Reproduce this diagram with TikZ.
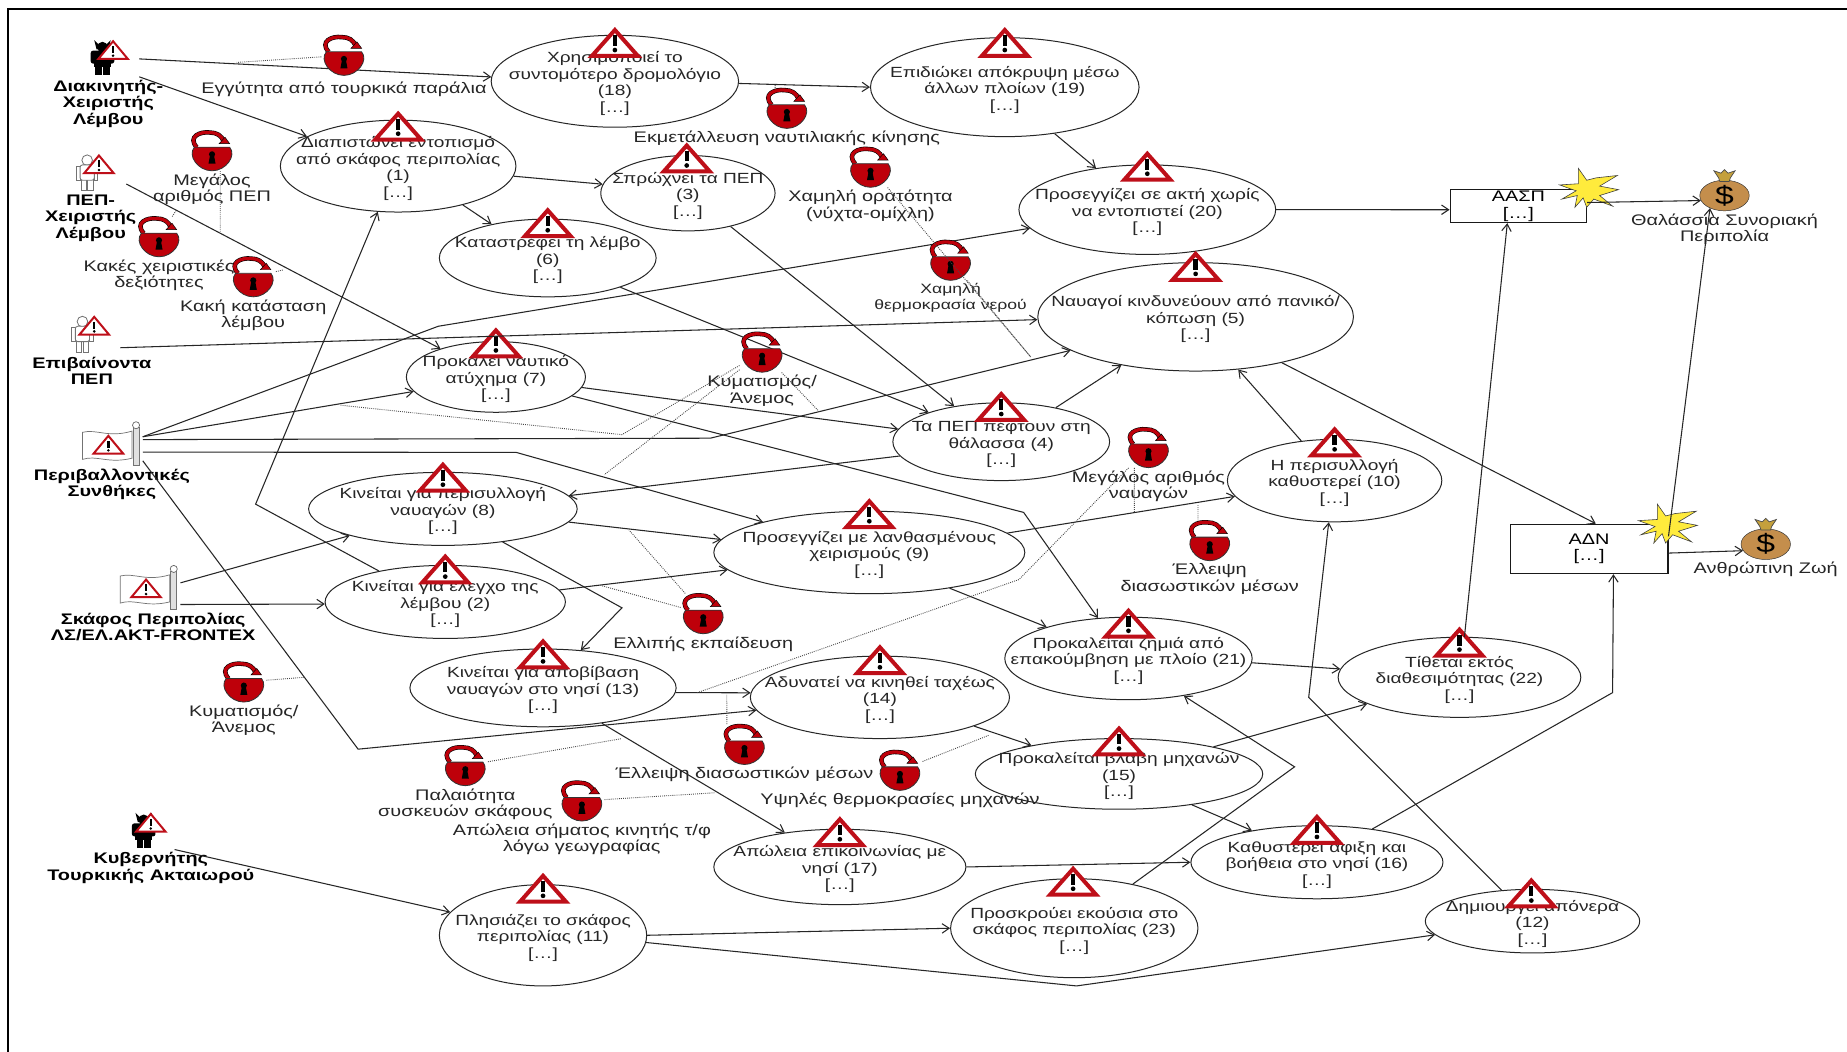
\documentclass[tikz,border=0pt]{standalone}
\usepackage{fontspec}
\setmainfont[FakeStretch=1.3]{Liberation Sans}
\usetikzlibrary{arrows.meta,shapes.geometric}
\newcommand{\goalfont}{\fontsize{12.5}{14}\selectfont}
\newcommand{\lblfont}{\fontsize{13}{14}\selectfont}
\newcommand{\lblsmall}{\fontsize{11.5}{14}\selectfont}
\newcommand{\actfont}{\fontsize{13}{14}\selectfont\bfseries}
\newcommand{\elided}{{[…]}}
\tikzset{%
  goal/.style 2 args={draw=black!85,shape=ellipse,fill=white,line width=.85pt,inner sep=0,minimum width=#1pt,minimum height=#2pt},
  goaltext/.style={font=\goalfont,text=black!85,align=center,inner sep=0,yshift=-2pt},
  locktext/.style={font=\lblfont,text=black!85,align=center,inner sep=0,yshift=-2pt},
  vuln/.style={shape=rectangle,inner sep=0,minimum width=38pt,minimum height=34pt},
  actor/.style 2 args={shape=rectangle,inner sep=0,minimum width=#1pt,minimum height=#2pt},
  actortext/.style={font=\actfont,align=center,inner sep=0,yshift=-2pt},
  riskbox/.style 2 args={draw=black!90,shape=rectangle,fill=white,line width=.9pt,font=\lblfont,align=center,inner sep=0,minimum width=#1pt,minimum height=#2pt},
  moneybag/.style={draw=black!80,shape=ellipse,fill=bagbrown,inner sep=0,minimum width=42pt,minimum height=26pt,font=\fontsize{22}{22}\selectfont},
  tedge/.style={draw=black!85,line width=.9pt,-{Straight Barb[length=6pt,width=8pt]}},
  vedge/.style={draw=black!72,densely dotted,line width=.75pt},
  pics/warn/.style={code={
    \draw[draw=warnred,line join=miter,line width=3.4pt,fill=white] (0,-10.5) -- (19.5,11.5) -- (-19.5,11.5) -- cycle;
    \fill[black] (-1.8,-6) rectangle (1.8,3);
    \fill[black] (0,6.5) circle (2);
  }},
  pics/smallwarn/.style={code={
    \draw[draw=warnred,line join=miter,line width=1.7pt,fill=white] (0,-8) -- (12.5,7) -- (-12.5,7) -- cycle;
    \fill[black] (-1,-4) rectangle (1,2);
    \fill[black] (0,4.3) circle (1.2);
  }},
  pics/lockicon/.style={code={
    \draw[black,line width=3.8pt] (-13,-3) .. controls (-21,-12) and (-10,-16.5) .. (-2,-15.5) .. controls (4,-15.5) and (8,-13) .. (10,-8);
    \draw[lockred,line width=2.8pt] (-13,-3) .. controls (-21,-12) and (-10,-16.5) .. (-2,-15.5) .. controls (4,-15.5) and (8,-13) .. (10,-8);
    \draw[draw=black,fill=lockred,line width=.4pt] (6,-6) -- (15,-6) -- (11,-11.5) -- cycle;
    \draw[draw=black!80,fill=lockred,line width=.7pt] (-15,-3) -- (15,-3) .. controls (21,4) and (12,17) .. (0,17) .. controls (-12,17) and (-21,4) .. (-15,-3) -- cycle;
    \fill[black] (0,3) circle (2.6);
    \fill[black] (-1.5,3) -- (1.5,3) -- (3,11) -- (-3,11) -- cycle;
  }},
  pics/burst/.style={code={
    \draw[draw=black!75,fill=burstyellow,line width=.5pt] (-26,-4) -- (-10,-5) -- (-10,-18) -- (-3,-8) -- (5,-10) -- (23,-12) -- (8,-3) -- (24,0) -- (8,5) -- (19,14) -- (3,8) -- (-3,15) -- (-6,7) -- (-13,15) -- (-11,5) -- (-24,8) -- (-12,1) -- cycle;
  }},
  pics/bagknot/.style={code={
    \draw[draw=black!70,fill=knotgold,line width=.6pt] (-4,-12) -- (4,-12) -- (5,-15) -- (9,-21) -- (3,-19) -- (0,-22) -- (-3,-19) -- (-9,-21) -- (-5,-15) -- cycle;
  }},
  pics/person/.style={code={
    \draw[draw=black!55,fill=white,line width=.7pt] (0,-11) circle (4.5);
    \draw[draw=black!55,fill=white,line width=.7pt] (-9,-6) rectangle (-6,6);
    \draw[draw=black!55,fill=white,line width=.7pt] (6,-6) rectangle (9,6);
    \draw[draw=black!55,fill=white,line width=.7pt] (-5,5) rectangle (-.5,15);
    \draw[draw=black!55,fill=white,line width=.7pt] (.5,5) rectangle (5,15);
    \draw[draw=black!55,fill=white,line width=.7pt,rounded corners=2pt] (-6,-7) rectangle (6,6);
  }},
  pics/devil/.style={code={
    \fill[black] (0,-9) circle (4.5);
    \fill[black] (-7,-15) -- (-3,-11) -- (3,-11) -- (7,-15) -- (5,-7) -- (-5,-7) -- cycle;
    \fill[black,rounded corners=2pt] (-10,-6) rectangle (10,5);
    \fill[black] (-7,0) rectangle (7,8);
    \fill[black] (-6,8) rectangle (-.5,15);
    \fill[black] (.5,8) rectangle (6,15);
  }},
  pics/flag/.style={code={
    \draw[draw=black!55,fill=white,line width=.6pt] (-24,-11) .. controls (-12,-14) and (-2,-6) .. (18,-12) -- (18,11) .. controls (-2,16) and (-12,8) .. (-24,12) -- cycle;
    \draw[draw=black!55,fill=black!12,line width=.6pt] (19,-15) rectangle (24,17);
    \draw[draw=black!60,fill=white,line width=.6pt] (21.5,-17) circle (3);
  }}
}
\definecolor{warnred}{RGB}{190,15,25}
\definecolor{lockred}{RGB}{190,0,10}
\definecolor{bagbrown}{RGB}{196,142,76}
\definecolor{knotgold}{RGB}{196,160,60}
\definecolor{burstyellow}{RGB}{255,235,60}
\begin{document}
\begin{tikzpicture}[x=1pt,y=-1pt]
  \useasboundingbox (0,0) rectangle (1568,893);
  \fill[white] (0,0) rectangle (1568,893);
  \draw[black,line width=1.6pt] (7,893) -- (7,8) -- (1568,8);
  \path
    (338,141) node (e_1)[goal={200}{78},label={[goaltext]center:{Διαπιστώνει εντοπισμό\\από σκάφος περιπολίας\\(1)\\\elided}}]{}
    (378,511) node (e_2)[goal={204}{62},label={[goaltext]center:{Κινείται για έλεγχο της\\λέμβου (2)\\\elided}}]{}
    (584,164) node (e_3)[goal={148}{64},label={[goaltext]center:{Σπρώχνει τα ΠΕΠ\\(3)\\\elided}}]{}
    (850,375) node (e_4)[goal={184}{66},label={[goaltext]center:{Τα ΠΕΠ πέφτουν στη\\θάλασσα (4)\\\elided}}]{}
    (1015,269) node (e_5)[goal={268}{92},label={[goaltext]center:{Ναυαγοί κινδυνεύουν από πανικό/\\κόπωση (5)\\\elided}}]{}
    (465,219) node (e_6)[goal={184}{66},label={[goaltext]center:{Καταστρέφει τη λέμβο\\(6)\\\elided}}]{}
    (421,320) node (e_7)[goal={152}{60},label={[goaltext]center:{Προκαλεί ναυτικό\\ατύχημα (7)\\\elided}}]{}
    (376,432) node (e_8)[goal={228}{62},label={[goaltext]center:{Κινείται για περισυλλογή\\ναυαγών (8)\\\elided}}]{}
    (738,469) node (e_9)[goal={264}{70},label={[goaltext]center:{Προσεγγίζει με λανθασμένους\\χειρισμούς (9)\\\elided}}]{}
    (1133,408) node (e_10)[goal={182}{70},label={[goaltext]center:{Η περισυλλογή\\καθυστερεί (10)\\\elided}}]{}
    (461,794) node (e_11)[goal={176}{86},label={[goaltext]center:{Πλησιάζει το σκάφος\\περιπολίας (11)\\\elided}}]{}
    (1301,782) node (e_12)[goal={182}{54},label={[goaltext]center:{Δημιουργεί απόνερα\\(12)\\\elided}}]{}
    (461,584) node (e_13)[goal={226}{66},label={[goaltext]center:{Κινείται για αποβίβαση\\ναυαγών στο νησί (13)\\\elided}}]{}
    (747,592) node (e_14)[goal={220}{70},label={[goaltext]center:{Αδυνατεί να κινηθεί ταχέως\\(14)\\\elided}}]{}
    (950,657) node (e_15)[goal={244}{60},label={[goaltext]center:{Προκαλείται βλάβη μηχανών\\(15)\\\elided}}]{}
    (1118,732) node (e_16)[goal={214}{62},label={[goaltext]center:{Καθυστερεί αφιξη και\\βοήθεια στο νησί (16)\\\elided}}]{}
    (713,736) node (e_17)[goal={214}{64},label={[goaltext]center:{Απώλεια επικοινωνίας με\\νησί (17)\\\elided}}]{}
    (522,69) node (e_18)[goal={210}{78},label={[goaltext]center:{Χρησιμοποιεί το\\συντομότερο δρομολόγιο\\(18)\\\elided}}]{}
    (853,74) node (e_19)[goal={228}{84},label={[goaltext]center:{Επιδιώκει απόκρυψη μέσω\\άλλων πλοίων (19)\\\elided}}]{}
    (974,178) node (e_20)[goal={218}{76},label={[goaltext]center:{Προσεγγίζει σε ακτή χωρίς\\να εντοπιστεί (20)\\\elided}}]{}
    (958,559) node (e_21)[goal={210}{70},label={[goaltext]center:{Προκαλείται ζημιά από\\επακούμβηση με πλοίο (21)\\\elided}}]{}
    (1239,575) node (e_22)[goal={206}{68},label={[goaltext]center:{Τίθεται εκτός\\διαθεσιμότητας (22)\\\elided}}]{}
    (912,788) node (e_23)[goal={210}{84},label={[goaltext]center:{Προσκρούει εκούσια στο\\σκάφος περιπολίας (23)\\\elided}}]{};
  \path
    (338,107) pic {warn} (583,134) pic {warn} (465,189) pic {warn} (850,345) pic {warn}
    (1015,226) pic {warn} (421,291) pic {warn} (376,405) pic {warn} (738,436) pic {warn}
    (1133,375) pic {warn} (378,483) pic {warn} (461,754) pic {warn} (1300,758) pic {warn}
    (461,555) pic {warn} (747,560) pic {warn} (950,629) pic {warn} (1118,704) pic {warn}
    (713,706) pic {warn} (522,36) pic {warn} (853,36) pic {warn} (974,141) pic {warn}
    (958,529) pic {warn} (1239,545) pic {warn} (911,748) pic {warn};
  \path
    (93,50) node (a_dev)[actor={50}{30}]{}
    (75,146) node (a_pep)[actor={64}{20}]{}
    (70,285) node (a_epi)[actor={64}{20}]{}
    (94,381) node (a_env)[actor={54}{20}]{}
    (128,504) node (a_ship)[actor={50}{18}]{}
    (122,706) node (a_cap)[actor={52}{30}]{}
    (92,86) node (t_dev)[actortext]{Διακινητής-\\Χειριστής\\Λέμβου}
    (77,183) node (t_pep)[actortext]{ΠΕΠ-\\Χειριστής\\Λέμβου}
    (78,313) node (t_epi)[actortext]{Επιβαίνοντα\\ΠΕΠ}
    (95,409) node (t_env)[actortext]{Περιβαλλοντικές\\Συνθήκες}
    (130,530) node (t_ship)[actortext]{Σκάφος Περιπολίας\\ΛΣ/ΕΛ.ΑΚΤ-FRONTEX}
    (128,735) node (t_cap)[actortext]{Κυβερνήτης\\Τουρκικής Ακταιωρού};
  \path
    (87,49) pic {devil} (96,43) pic {smallwarn}
    (74,147) pic {person} (84,140) pic {smallwarn}
    (70,284) pic {person} (80,277) pic {smallwarn}
    (94,378) pic {flag} (92,378) pic {smallwarn}
    (126,500) pic {flag} (124,500) pic {smallwarn}
    (122,705) pic {devil} (128,699) pic {smallwarn};
  \path
    (1289,175) node (r_1)[riskbox={116}{28}]{ΑΑΣΠ\\\elided}
    (1349,466) node (r_2)[riskbox={134}{42}]{ΑΔΝ\\\elided}
    (1464,166) node (m_1)[moneybag,label={[locktext]below:{Θαλάσσια Συνοριακή\\Περιπολία}}]{\$}
    (1499,462) node (m_2)[moneybag,label={[locktext]below:{Ανθρώπινη Ζωή}}]{\$}
    (1464,166) pic {bagknot} (1499,462) pic {bagknot}
    (1350,161) pic {burst} (1417,446) pic {burst};
  \coordinate (b_1) at (372,277);
  \coordinate (b_2) at (603,372);
  \coordinate (b_3) at (438,384);
  \coordinate (b_4) at (304,636);
  \coordinate (b_5) at (217,428);
  \coordinate (b_6) at (869,435);
  \coordinate (b_7) at (528,516);
  \coordinate (b_8) at (1099,651);
  \coordinate (b_9) at (1369,588);
  \coordinate (b_10) at (1111,592);
  \coordinate (b_11) at (914,837);
  \draw[tedge] (a_dev.east) -- (e_18.178);
  \draw[tedge] (a_dev.south east) -- (e_1.162);
  \draw[tedge] (a_pep.south east) -- (e_7.153);
  \draw[tedge] (a_epi.south east) -- (e_5.-179);
  \draw[tedge] (a_env.north east) -- (b_1) -- (e_20.-171);
  \draw[tedge] (a_env.north east) -- (e_7.-170);
  \draw[tedge] (a_env.16) -- (b_2) -- (e_5.-165);
  \draw[tedge] (a_env.-6) -- (b_3) -- (e_9.164);
  \draw[tedge] (a_env.south east) -- (b_4) -- (e_14.-174);
  \draw[tedge] (a_ship.north east) -- (e_8.-164);
  \draw[tedge] (a_ship.south east) -- (e_2.-179);
  \draw[tedge] (a_cap.south east) -- (e_11.166);
  \draw[tedge] (e_18.-1) -- (e_19.180);
  \draw[tedge] (e_19.-43) -- (e_20.141);
  \draw[tedge] (e_1.-5) -- (e_3.174);
  \draw[tedge] (e_1.-31) -- (e_6.149);
  \draw[tedge] (e_2.155) -- (b_5) -- (e_1.-114);
  \draw[tedge] (e_7.-7) -- (e_4.173);
  \draw[tedge] (e_7.-14) -- (b_6) -- (e_21.127);
  \draw[tedge] (e_6.-22) -- (e_4.158);
  \draw[tedge] (e_3.-38) -- (e_4.143);
  \draw[tedge] (e_4.-172) -- (e_8.6);
  \draw[tedge] (e_4.32) -- (e_5.-147);
  \draw[tedge] (e_8.-6) -- (e_9.175);
  \draw[tedge] (e_8.-29) -- (b_7) -- (e_13.45);
  \draw[tedge] (e_2.6) -- (e_9.-173);
  \draw[tedge] (e_9.8) -- (e_10.-171);
  \draw[tedge] (e_9.-24) -- (e_21.159);
  \draw[tedge] (e_13.-2) -- (e_14.178);
  \draw[tedge] (e_13.-31) -- (e_17.148);
  \draw[tedge] (e_14.-17) -- (e_15.162);
  \draw[tedge] (e_15.16) -- (e_22.-164);
  \draw[tedge] (e_15.-23) -- (e_16.154);
  \draw[tedge] (e_17.0) -- (e_16.180);
  \draw[tedge] (e_21.-2) -- (e_22.176);
  \draw[tedge] (e_23.37) -- (b_8) -- (e_21.-34);
  \draw[tedge] (e_16.31) -- (b_9) -- (r_2.-46);
  \draw[tedge] (e_12.135) -- (b_10) -- (e_10.-98);
  \draw[tedge] (e_22.83) -- (r_1.-123);
  \draw[tedge] (e_20.0) -- (r_1.-177);
  \draw[tedge] (e_5.-28) -- (r_2.75);
  \draw[tedge] (e_10.130) -- (e_5.-51);
  \draw[tedge] (e_11.0) -- (e_23.180);
  \draw[tedge] (e_11.-4) -- (b_11) -- (e_12.-172);
  \draw[tedge] (r_1.3) -- (m_1.-168);
  \draw[tedge] (r_2.-3) -- (m_2.-164);
  \draw[tedge] (r_2.9) -- (m_1.-139);
  \path
    (292,47) node (l_1)[vuln,label={[locktext,yshift=-3pt]below:{Εγγύτητα από τουρκικά παράλια}}]{} pic {lockicon}
    (180,128) node (l_2)[vuln,label={[locktext]below:{Μεγάλος\\αριθμός ΠΕΠ}}]{} pic {lockicon}
    (135,201) node (l_3)[vuln,label={[locktext]below:{Κακές χειριστικές\\δεξιότητες}}]{} pic {lockicon}
    (215,235) node (l_4)[vuln,label={[locktext]below:{Κακή κατάσταση\\λέμβου}}]{} pic {lockicon}
    (668,92) node (l_5)[vuln,label={[locktext]below:{Εκμετάλλευση ναυτιλιακής κίνησης}}]{} pic {lockicon}
    (739,142) node (l_6)[vuln,label={[locktext]below:{Χαμηλή ορατότητα\\(νύχτα-ομίχλη)}}]{} pic {lockicon}
    (807,221) node (l_7)[vuln,label={[locktext,font=\lblsmall]below:{Χαμηλή\\θερμοκρασία νερού}}]{} pic {lockicon}
    (647,299) node (l_8)[vuln,label={[locktext]below:{Κυματισμός/\\Άνεμος}}]{} pic {lockicon}
    (975,380) node (l_9)[vuln,label={[locktext]below:{Μεγάλος αριθμός\\ναυαγών}}]{} pic {lockicon}
    (1027,459) node (l_10)[vuln,label={[locktext]below:{Έλλειψη\\διασωστικών μέσων}}]{} pic {lockicon}
    (597,521) node (l_11)[vuln,label={[locktext]below:{Ελλιπής εκπαίδευση}}]{} pic {lockicon}
    (207,579) node (l_12)[vuln,label={[locktext]below:{Κυματισμός/\\Άνεμος}}]{} pic {lockicon}
    (632,632) node (l_13)[vuln,label={[locktext]below:{Έλλειψη διασωστικών μέσων}}]{} pic {lockicon}
    (764,654) node (l_14)[vuln,label={[locktext]below:{Υψηλές θερμοκρασίες μηχανών}}]{} pic {lockicon}
    (395,650) node (l_15)[vuln,label={[locktext]below:{Παλαιότητα\\συσκευών σκάφους}}]{} pic {lockicon}
    (494,680) node (l_16)[vuln,label={[locktext]below:{Απώλεια σήματος κινητής τ/φ\\λόγω γεωγραφίας}}]{} pic {lockicon};
  \coordinate (v_1) at (201,53);
  \coordinate (v_2) at (187,197);
  \coordinate (v_3) at (150,178);
  \coordinate (v_4) at (241,229);
  \coordinate (v_5) at (658,72);
  \coordinate (v_6) at (875,303);
  \coordinate (v_7) at (513,403);
  \coordinate (v_8) at (528,369);
  \coordinate (v_9) at (289,344);
  \coordinate (v_10) at (696,350);
  \coordinate (v_11) at (963,435);
  \coordinate (v_12) at (865,492);
  \coordinate (v_13) at (592,588);
  \coordinate (v_14) at (1017,428);
  \coordinate (v_15) at (534,450);
  \coordinate (v_16) at (510,497);
  \coordinate (v_17) at (258,575);
  \coordinate (v_18) at (617,590);
  \coordinate (v_19) at (840,624);
  \coordinate (v_20) at (528,627);
  \coordinate (v_21) at (607,673);
  \draw[vedge] (l_1) -- (v_1);
  \draw[vedge] (l_2.-68) -- (v_2);
  \draw[vedge] (l_3) -- (v_3);
  \draw[vedge] (l_4) -- (v_4);
  \draw[vedge] (l_5.120) -- (v_5);
  \draw[vedge] (l_6) -- (v_6);
  \draw[vedge] (l_7) -- (v_6);
  \draw[vedge] (l_8) -- (v_7);
  \draw[vedge] (l_8) -- (v_8) -- (v_9);
  \draw[vedge] (l_8) -- (v_10);
  \draw[vedge] (l_9.-125) -- (v_11);
  \draw[vedge] (l_9) -- (v_12) -- (v_13);
  \draw[vedge] (l_10.120) -- (v_14);
  \draw[vedge] (l_11) -- (v_15);
  \draw[vedge] (l_11) -- (v_16);
  \draw[vedge] (l_12) -- (v_17);
  \draw[vedge] (l_13.131) -- (v_18);
  \draw[vedge] (l_14) -- (v_19);
  \draw[vedge] (l_15) -- (v_20);
  \draw[vedge] (l_16) -- (v_21);
\end{tikzpicture}
\end{document}
